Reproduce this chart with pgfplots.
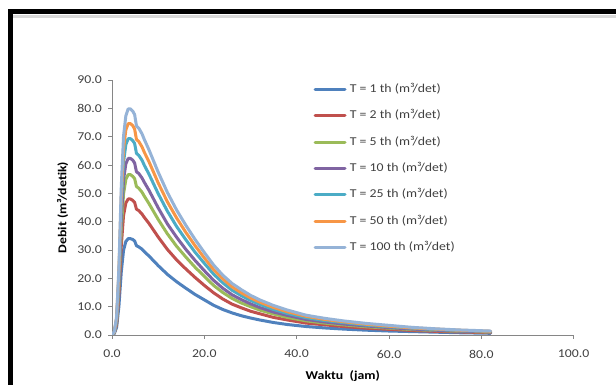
\documentclass[border=0pt]{standalone}
\usepackage{pgfplots}
\pgfplotsset{compat=1.18}
\usepackage{pgfplotstable}
\usepackage{fontspec}
\setmainfont{Carlito}[FakeStretch=1.15]
\definecolor{c1}{HTML}{4F81BD}
\definecolor{c2}{HTML}{C0504D}
\definecolor{c3}{HTML}{9BBB59}
\definecolor{c4}{HTML}{8064A2}
\definecolor{c5}{HTML}{4BACC6}
\definecolor{c6}{HTML}{F79646}
\definecolor{c7}{HTML}{95B3D7}
\definecolor{axgray}{HTML}{868686}
\definecolor{lblgray}{HTML}{404040}

\pgfplotstableread{
t    A     B     C     D     E     F     G
0    0     0     0     0     0     0     0
0.5  0.5   0.7   0.8   0.9   1.0   1.1   1.2
1    2.7   3.8   4.5   5.0   5.5   6.0   6.4
1.5  10.2  14.4  17.0  18.7  20.8  22.4  23.9
2    22.1  31.2  36.8  40.5  45.0  48.5  51.9
2.5  29.9  42.2  49.8  54.8  61.0  65.6  70.2
3    33.0  46.6  54.9  60.4  67.2  72.4  77.4
3.5  34.0  48.0  56.6  62.3  69.3  74.6  79.8
4    34.0  48.0  56.6  62.3  69.3  74.6  79.8
4.5  33.7  47.5  56.0  61.7  68.6  73.9  79.0
4.9  33.2  46.8  55.2  60.7  67.6  72.7  77.8
5.3  31.5  44.4  52.4  57.6  64.1  69.0  73.8
5.8  31.1  43.9  51.8  57.0  63.4  68.3  73.0
6.5  30.3  42.7  50.4  55.4  61.7  66.4  71.0
7    29.4  41.5  49.0  53.9  59.9  64.5  69.0
8    27.9  39.4  46.4  51.1  56.8  61.2  65.4
10   24.5  34.6  40.8  44.9  49.9  53.7  57.5
12   21.4  30.2  35.7  39.2  43.7  47.0  50.3
14   18.8  26.5  31.3  34.5  38.3  41.3  44.1
16   16.5  23.3  27.5  30.2  33.6  36.2  38.7
18   14.3  20.3  23.9  26.3  29.2  31.5  33.7
20   12.4  17.5  20.7  22.7  25.3  27.2  29.1
22   10.5  14.9  17.5  19.3  21.5  23.1  24.7
24   9.0   12.7  15.0  16.5  18.4  19.8  21.1
26   7.8   10.9  12.9  14.2  15.8  17.0  18.2
28   6.8   9.6   11.3  12.5  13.9  14.9  16.0
30   6.0   8.4   10.0  11.0  12.2  13.1  14.0
32   5.3   7.5   8.8   9.7   10.8  11.6  12.4
35   4.4   6.2   7.4   8.1   9.0   9.7   10.4
38   3.7   5.3   6.2   6.9   7.6   8.2   8.8
42   3.0   4.2   5.0   5.5   6.1   6.6   7.0
46   2.5   3.6   4.2   4.6   5.1   5.5   5.9
50   2.1   3.0   3.6   3.9   4.4   4.7   5.0
55   1.7   2.4   2.9   3.2   3.5   3.8   4.1
60   1.4   2.0   2.4   2.6   2.9   3.1   3.4
65   1.2   1.6   1.9   2.1   2.4   2.5   2.7
70   1.0   1.3   1.6   1.7   1.9   2.1   2.2
75   0.8   1.1   1.3   1.4   1.6   1.7   1.8
82   0.6   0.8   1.0   1.1   1.2   1.3   1.4
}\hydro

\begin{document}
\begin{tikzpicture}[x=1pt,y=1pt]
\fontsize{12}{14}\selectfont
\useasboundingbox (0,0) rectangle (616,385);
\fill[white] (0,0) rectangle (616,385);
\fill[black] (8,371) rectangle (616,376);
\fill[black] (8,0) rectangle (13,376);
\fill[gray!30] (13,367) rectangle (616,369.5);
\begin{axis}[
  at={(112pt,50pt)}, anchor=south west,
  scale only axis, width=461.7pt, height=255pt,
  xmin=0, xmax=100, ymin=0, ymax=90,
  axis x line*=bottom, axis y line*=left,
  axis line style={draw=axgray, line width=0.9pt, -},
  xtick={0,20,...,100}, ytick={0,10,...,90},
  tick align=outside, major tick length=4pt,
  tick style={draw=axgray, line width=0.9pt},
  ticklabel style={font=\fontsize{12}{14}\selectfont, text=lblgray},
  xticklabel style={yshift=-7pt},
  yticklabel style={xshift=-2pt},
  /pgf/number format/.cd, fixed, fixed zerofill, precision=1, assume math mode=true,
  /pgfplots/.cd,
  every axis y label/.style={at={(axis description cs:-0.1072,0.5)}, rotate=90, anchor=center},
  every axis x label/.style={at={(axis description cs:0.5,-0.161)}, anchor=center},
  xlabel={\bfseries Waktu\ \ (jam)},
  ylabel={\bfseries Debit (m³/detik)},
  legend style={draw=none, fill=none, at={(rel axis cs:0.436,0.988)}, anchor=north west,
    inner sep=0pt, row sep=14.4pt,
    nodes={inner sep=0pt, text height=9pt, text depth=3pt, font=\fontsize{12}{14}\selectfont, text=lblgray}},
  legend cell align=left,
  legend image code/.code={\draw[#1] (0pt,0pt) -- (30pt,0pt);},
  /tikz/every odd column/.append style={column sep=3.4pt},
  every axis plot/.append style={line width=3pt, line join=round, line cap=round},
]
\addplot[c1] table[x=t,y=A] {\hydro};
\addlegendentry{T = 1 th (m³/det)}
\addplot[c2] table[x=t,y=B] {\hydro};
\addlegendentry{T = 2 th (m³/det)}
\addplot[c3] table[x=t,y=C] {\hydro};
\addlegendentry{T = 5 th (m³/det)}
\addplot[c4] table[x=t,y=D] {\hydro};
\addlegendentry{T = 10 th (m³/det)}
\addplot[c5] table[x=t,y=E] {\hydro};
\addlegendentry{T = 25 th (m³/det)}
\addplot[c6] table[x=t,y=F] {\hydro};
\addlegendentry{T = 50 th (m³/det)}
\addplot[c7] table[x=t,y=G] {\hydro};
\addlegendentry{T = 100 th (m³/det)}
\end{axis}
\end{tikzpicture}
\end{document}
